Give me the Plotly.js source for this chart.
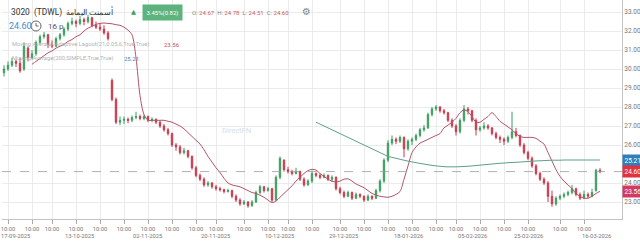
<!DOCTYPE html>
<html>
<head>
<meta charset="utf-8">
<script src="https://cdn.plot.ly/plotly-3.0.1.min.js"></script>
<style>html,body{margin:0;padding:0;background:#fff;}#chart{width:640px;height:243px;}</style>
</head>
<body>
<div id="chart"></div>
<script>
// ---- Data ----
const opens = [
29.8,30.0,30.2,30.4,30.3,30.0,31.1,30.6,30.8,31.4,
31.7,31.8,31.3,31.2,31.6,31.8,32.1,32.4,32.5,32.4,
32.6,32.5,32.7,32.3,32.2,32.1,31.9,29.4,28.4,27.2,
27.3,27.35,27.3,27.45,27.5,27.4,27.5,27.3,27.35,27.2,
27.0,26.8,26.6,26.0,25.9,25.6,25.7,25.4,24.8,24.4,
24.2,23.9,24.0,23.8,23.7,23.65,23.55,23.6,23.3,23.1,
22.9,23.0,22.8,23.0,23.5,23.8,23.6,23.7,23.1,24.3,
25.2,24.7,24.6,24.5,24.6,24.2,23.9,24.1,24.5,24.4,
24.3,24.4,24.2,24.3,23.7,23.5,23.3,23.5,23.2,23.4,
23.3,23.1,23.3,23.2,23.6,24.1,25.2,26.1,26.3,26.2,
26.4,25.8,26.2,26.3,26.5,26.8,26.9,27.6,27.9,28.0,
27.8,27.7,27.3,27.0,26.7,27.3,27.9,27.8,27.3,26.8,
26.9,27.0,26.9,26.6,26.4,26.3,26.2,26.4,26.7,26.5,
26.0,25.6,25.3,24.9,24.5,24.2,24.0,23.3,22.9,23.2,
23.3,23.4,23.5,23.7,23.4,23.2,23.4,23.3,23.6,24.67];
const highs = [
30.2,30.4,30.6,30.5,30.6,31.4,31.2,31.0,31.5,31.8,
31.95,31.85,31.5,31.7,31.9,32.2,32.5,32.7,32.6,32.8,
32.7,32.85,32.75,32.5,32.4,32.3,32.0,29.5,28.5,27.5,
27.5,27.45,27.55,27.75,27.6,27.6,27.55,27.45,27.4,27.3,
27.1,26.9,26.65,26.1,26.0,25.85,25.75,25.45,24.9,24.5,
24.3,24.1,24.05,23.9,23.8,23.7,23.7,23.65,23.4,23.2,
23.1,23.05,23.1,23.6,23.9,23.85,23.8,23.75,24.4,25.4,
25.25,24.85,24.7,24.8,24.65,24.3,24.2,24.65,24.55,24.5,
24.5,24.45,24.4,24.35,23.8,23.6,23.6,23.55,23.5,23.45,
23.35,23.4,23.35,23.7,24.2,25.3,26.25,26.5,26.4,26.5,
26.45,26.3,26.4,26.6,26.9,27.05,27.7,28.0,28.1,28.05,
27.9,27.75,27.4,27.1,27.4,28.1,28.0,27.85,27.4,27.0,
27.2,27.1,26.95,26.7,26.5,26.4,26.5,27.75,26.9,26.55,
26.1,25.7,25.4,25.0,24.6,24.3,24.1,23.6,23.3,23.4,
23.5,23.6,23.9,23.75,23.5,23.6,23.5,23.7,24.75,24.78];
const lows = [
29.6,29.9,30.1,30.1,29.8,29.9,30.4,30.5,30.7,31.3,
31.6,31.1,31.1,31.15,31.5,31.7,32.0,32.3,32.2,32.3,
32.3,32.4,32.2,32.1,32.0,31.8,31.5,28.3,27.1,27.05,
27.1,27.15,27.2,27.35,27.3,27.3,27.2,27.2,27.1,26.9,
26.7,26.5,25.9,25.7,25.5,25.5,25.3,24.7,24.3,24.1,
23.8,23.8,23.7,23.6,23.55,23.45,23.5,23.2,23.0,22.8,
22.85,22.7,22.75,22.95,23.4,23.5,23.55,23.0,23.05,24.2,
24.6,24.5,24.4,24.45,24.1,23.8,23.85,24.0,24.3,24.2,
24.25,24.1,24.05,23.6,23.4,23.2,23.25,23.1,23.15,23.2,
23.0,23.05,23.1,23.15,23.5,24.0,25.1,26.0,26.05,26.1,
25.35,25.7,26.0,26.2,26.4,26.7,26.85,27.5,27.8,27.7,
27.6,27.2,26.9,26.5,26.6,27.2,27.6,27.2,26.5,26.7,
26.8,26.8,26.5,26.3,26.1,26.0,26.1,26.3,26.4,25.9,
25.5,25.2,24.8,24.4,24.1,23.9,23.0,22.75,22.8,23.1,
23.2,23.3,23.4,23.3,23.1,23.15,23.2,23.25,23.55,24.51];
const closes = [
30.0,30.2,30.4,30.3,29.9,31.2,30.6,30.8,31.4,31.7,
31.8,31.3,31.2,31.6,31.8,32.1,32.4,32.5,32.4,32.6,
32.5,32.7,32.3,32.2,32.1,31.9,31.6,28.4,27.2,27.3,
27.35,27.3,27.45,27.5,27.4,27.5,27.3,27.35,27.2,27.0,
26.8,26.6,26.0,25.9,25.6,25.7,25.4,24.8,24.4,24.2,
23.9,24.0,23.8,23.7,23.65,23.55,23.6,23.3,23.1,22.9,
23.0,22.8,23.0,23.5,23.8,23.6,23.7,23.1,24.3,25.3,
24.7,24.6,24.5,24.6,24.2,23.9,24.1,24.5,24.4,24.3,
24.4,24.2,24.3,23.7,23.5,23.3,23.5,23.2,23.4,23.3,
23.1,23.3,23.2,23.6,24.1,25.2,26.1,26.3,26.2,26.4,
25.8,26.2,26.3,26.5,26.8,26.9,27.6,27.9,28.0,27.8,
27.7,27.3,27.0,26.7,27.3,27.9,27.8,27.3,26.8,26.9,
27.0,26.9,26.6,26.4,26.3,26.2,26.4,26.7,26.5,26.0,
25.6,25.3,24.9,24.5,24.2,24.0,23.3,22.9,23.2,23.3,
23.4,23.5,23.7,23.4,23.2,23.4,23.3,23.5,24.67,24.60];

// Moving Average Adaptive (21,0.05,6) – starts at bar 7
const amaStartBar = 7;
const amaValues = [
30.25,30.4,30.55,30.7,30.85,30.95,31.1,31.2,31.3,31.45,
31.55,31.7,31.8,32.0,32.15,32.25,32.35,32.4,32.42,32.4,
32.38,32.33,32.3,32.2,32.05,31.8,30.6,28.6,27.6,27.3,
27.3,27.3,27.3,27.3,27.25,27.2,27.1,27.0,26.85,26.65,
26.45,26.25,26.05,25.75,25.4,25.1,24.8,24.55,24.25,24.0,
23.9,23.85,23.8,23.7,23.6,23.5,23.45,23.35,23.25,23.1,
22.97,23.05,23.25,23.45,23.65,23.85,24.1,24.3,24.5,24.65,
24.72,24.68,24.5,24.35,24.2,24.1,24.05,24.1,24.2,24.22,
24.1,23.95,23.85,23.75,23.6,23.45,23.37,23.3,23.27,23.25,
23.3,23.4,23.55,24.2,24.9,25.6,25.9,26.1,26.2,26.3,
26.4,26.5,26.6,26.9,27.05,27.2,27.4,27.7,27.85,27.75,
27.5,27.2,27.2,27.35,27.5,27.7,27.5,27.25,27.1,26.95,
26.8,26.6,26.45,26.4,26.4,26.4,26.35,26.2,26.05,25.6,
25.15,24.7,24.35,24.1,23.9,23.7,23.45,23.3,23.2,23.2,
23.3,23.45,23.56];

// Moving Average (200, SIMPLE) – starts at bar 78
const smaStartBar = 78;
const smaValues = [
27.20,27.10,27.00,26.90,26.80,26.70,26.60,26.50,26.40,26.30,
26.20,26.10,26.00,25.90,25.80,25.70,25.60,25.50,25.40,25.35,
25.30,25.25,25.20,25.15,25.11,25.07,25.03,25.00,24.96,24.93,
24.90,24.88,24.86,24.85,24.85,24.85,24.86,24.87,24.88,24.90,
24.92,24.94,24.96,24.98,25.00,25.02,25.04,25.05,25.07,25.08,
25.09,25.10,25.12,25.13,25.15,25.16,25.17,25.18,25.19,25.20,
25.20,25.20,25.21,25.21,25.21,25.21,25.21,25.21,25.21,25.21,
25.21,25.21];

// axis labels
const priceTicks = [23, 24, 26, 27, 28, 29, 30, 31, 32, 33];
const tickBars = [1,7,12,18,24,30,36,42,48,53,60,66,71,77,84,90,96,102,108,113,119,125,131,139,145];
const tickLabels = tickBars.map(() => '10:00');
const dateBars = [3,19,36,53,69,85,101,117,131,148];
const dateLabels = ['17-09-2025','13-10-2025','02-11-2025','20-11-2025','10-12-2025',
                    '29-12-2025','18-01-2026','05-02-2026','25-02-2026','16-03-2026'];

const changePct = '3.45%';
const changeAbs = '0.82';

// ---- Build ----
const bars = closes.map((_, i) => i);
const amaX = amaValues.map((_, k) => amaStartBar + k);
const smaX = smaValues.map((_, k) => smaStartBar + k);
const lastO = opens[opens.length-1], lastH = highs[highs.length-1],
      lastL = lows[lows.length-1], lastC = closes[closes.length-1];
const lastAma = amaValues[amaValues.length-1];
const lastSma = smaValues[smaValues.length-1];

const GREEN = '#3f9d62', RED = '#c93a4e';
const AMA_COLOR = '#b4546a', SMA_COLOR = '#5e9f89';

const traces = [
  {
    type: 'candlestick', x: bars, open: opens, high: highs, low: lows, close: closes,
    increasing: {line: {color: GREEN, width: 1}, fillcolor: GREEN},
    decreasing: {line: {color: RED, width: 1}, fillcolor: RED},
    whiskerwidth: 0, hoverinfo: 'skip', showlegend: false
  },
  {
    type: 'scatter', mode: 'lines', x: amaX, y: amaValues,
    line: {color: AMA_COLOR, width: 1, shape: 'spline', smoothing: 0.8},
    hoverinfo: 'skip', showlegend: false
  },
  {
    type: 'scatter', mode: 'lines', x: smaX, y: smaValues,
    line: {color: SMA_COLOR, width: 1, shape: 'spline'},
    hoverinfo: 'skip', showlegend: false
  }
];

// pixel helpers for the header overlay (plot area: x 2..622, y 0..219)
const PL = 2, PW = 620, PH = 219;
const px = p => (p - PL) / PW;
const py = p => 1 - p / PH;
const FONT = 'Roboto, "Open Sans", Arial, sans-serif';

const annotations = [
  {xref:'paper', yref:'paper', x: px(9), y: py(12), xanchor:'left', yanchor:'middle', showarrow:false,
   text:'3020  (TDWL)  أسمنت اليمامة', font:{family:FONT, size:8.4, color:'#333'}},
  {xref:'paper', yref:'paper', x: px(133), y: py(12), xanchor:'center', yanchor:'middle', showarrow:false,
   text:'▲', font:{family:'DejaVu Sans', size:6.5, color:GREEN}},
  {xref:'paper', yref:'paper', x: px(162.5), y: py(12.5), xanchor:'center', yanchor:'middle', showarrow:false,
   text: changePct + '(' + changeAbs + ')', bgcolor:'#5db37d', borderpad:3.5,
   font:{family:FONT, size:6, color:'#ffffff'}},
  {xref:'paper', yref:'paper', x: px(190), y: py(12), xanchor:'left', yanchor:'middle', showarrow:false,
   text: '<span style="color:#888">O:</span> ' + lastO.toFixed(2) + '  <span style="color:#888">H:</span> ' + lastH.toFixed(2) +
         '  <span style="color:#888">L:</span> ' + lastL.toFixed(2) + '  <span style="color:#888">C:</span> ' + lastC.toFixed(2),
   font:{family:FONT, size:6, color:'#c9605a'}},
  {xref:'paper', yref:'paper', x: px(306), y: py(11), xanchor:'center', yanchor:'middle', showarrow:false,
   text:'⚙', font:{family:'DejaVu Sans', size:10, color:'#888'}},
  {xref:'paper', yref:'paper', x: px(7), y: py(26), xanchor:'left', yanchor:'middle', showarrow:false,
   text: lastC.toFixed(2), font:{family:FONT, size:9, color:'#3d8fd0'}},
  {xref:'paper', yref:'paper', x: px(46), y: py(26), xanchor:'left', yanchor:'middle', showarrow:false,
   text:'16 p', font:{family:FONT, size:8, color:'#555'}},
  {xref:'paper', yref:'paper', x: px(10), y: py(44), xanchor:'left', yanchor:'middle', showarrow:false,
   text:'Moving Average Adaptive Lagout(21,0.05,6,True,True)', font:{family:FONT, size:5.8, color:'#b3b3b3'}},
  {xref:'paper', yref:'paper', x: px(162), y: py(44), xanchor:'left', yanchor:'middle', showarrow:false,
   text: lastAma.toFixed(2), font:{family:FONT, size:6, color:'#c2506a'}},
  {xref:'paper', yref:'paper', x: px(10), y: py(58), xanchor:'left', yanchor:'middle', showarrow:false,
   text:'Moving Average(200,SIMPLE,True,True)', font:{family:FONT, size:5.8, color:'#b3b3b3'}},
  {xref:'paper', yref:'paper', x: px(122), y: py(58), xanchor:'left', yanchor:'middle', showarrow:false,
   text: lastSma.toFixed(2), font:{family:FONT, size:6, color:'#4a86b8'}},
  {xref:'paper', yref:'paper', x: px(236), y: py(130), xanchor:'center', yanchor:'middle', showarrow:false,
   text:'DirectFN', font:{family:FONT, size:7.5, color:'#d6dee8'}},
  // right side price boxes
  {xref:'paper', yref:'y', x: 1, y: lastSma, xanchor:'left', yanchor:'middle', showarrow:false,
   text: lastSma.toFixed(2), bgcolor:'#2f7fb8', borderpad:1.5, font:{family:FONT, size:6.5, color:'#fff'}},
  {xref:'paper', yref:'y', x: 1, y: lastC, xanchor:'left', yanchor:'middle', showarrow:false,
   text: lastC.toFixed(2), bgcolor:'#e0323f', borderpad:1.5, font:{family:FONT, size:6.5, color:'#fff'}},
  {xref:'paper', yref:'y', x: 1, y: lastAma, xanchor:'left', yanchor:'middle', showarrow:false,
   text: lastAma.toFixed(2), bgcolor:'#d33a62', borderpad:1.5, font:{family:FONT, size:6.5, color:'#fff'}}
];
dateBars.forEach((b, k) => annotations.push({
  xref:'x', yref:'paper', x: b, y: py(236), xanchor:'center', yanchor:'middle', showarrow:false,
  text: dateLabels[k], font:{family:FONT, size:5.8, color:'#777'}
}));

const shapes = [
  {type:'line', xref:'paper', yref:'y', x0:0, x1:1, y0:lastC, y1:lastC,
   line:{color:'#9a9a9a', width:0.8, dash:'dash'}},
  // clock icon
  {type:'circle', xref:'paper', yref:'paper', x0:px(31), x1:px(41), y0:py(31), y1:py(21),
   line:{color:'#666', width:1}},
  {type:'line', xref:'paper', yref:'paper', x0:px(36), x1:px(36), y0:py(26), y1:py(23),
   line:{color:'#666', width:1}},
  {type:'line', xref:'paper', yref:'paper', x0:px(36), x1:px(38.5), y0:py(26), y1:py(26),
   line:{color:'#666', width:1}}
];

const layout = {
  width: 640, height: 243,
  margin: {l: PL, r: 640 - PL - PW, t: 0, b: 243 - PH},
  paper_bgcolor: '#ffffff', plot_bgcolor: '#ffffff',
  showlegend: false, boxgap: 0.5,
  xaxis: {
    range: [-0.5, 154.5], rangeslider: {visible: false},
    tickmode: 'array', tickvals: tickBars, ticktext: tickLabels,
    tickfont: {family: FONT, size: 5.8, color: '#777'},
    ticks: 'outside', ticklen: 4, tickcolor: '#aaa',
    showgrid: true, gridcolor: '#ebebeb', gridwidth: 1,
    showline: true, linecolor: '#c4c4c4', zeroline: false, fixedrange: true
  },
  yaxis: {
    side: 'right', range: [22.105, 33.632],
    tickmode: 'array', tickvals: priceTicks, ticktext: priceTicks.map(v => v.toFixed(2)),
    tickfont: {family: FONT, size: 6.5, color: '#777'},
    showgrid: true, gridcolor: '#ebebeb', gridwidth: 1,
    showline: true, linecolor: '#c4c4c4', zeroline: false, ticks: '', fixedrange: true
  },
  annotations: annotations,
  shapes: shapes
};

Plotly.newPlot('chart', traces, layout, {staticPlot: true, displayModeBar: false});
</script>
</body>
</html>
